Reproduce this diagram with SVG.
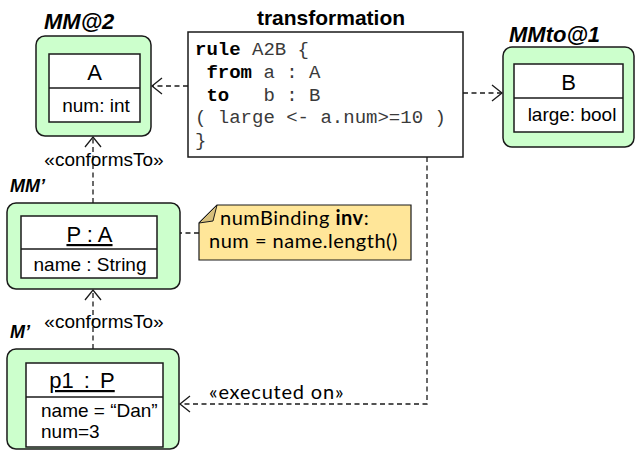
<svg xmlns="http://www.w3.org/2000/svg" width="635" height="460" viewBox="0 0 635 460">
<style>
.bg{fill:#ffffff}
.pkg{fill:#ccffcc;stroke:#1a1a1a;stroke-width:1.5}
.cls{fill:#ffffff;stroke:#1a1a1a;stroke-width:1.5}
.sep{stroke:#1a1a1a;stroke-width:1.5}
.t{font-family:"Liberation Sans",Arial,sans-serif;font-size:19px;fill:#000}
.nm{font-family:"Liberation Sans",Arial,sans-serif;font-size:22px;fill:#000}
.lbl{font-family:"Liberation Sans",Arial,sans-serif;font-weight:bold;font-style:italic;fill:#000}
.code{font-family:"Liberation Mono","Courier New",monospace;font-size:19px;fill:#3a3a3a;white-space:pre}
.kw{font-weight:bold;fill:#000}
.note{font-family:Lato,"Noto Sans",sans-serif;font-size:20px;letter-spacing:0.5px;fill:#000}
.conn{fill:none;stroke:#1a1a1a;stroke-width:1.3;stroke-dasharray:5,3.5}
</style>
<defs>
<marker id="open" viewBox="-12 -10 14 20" markerWidth="14" markerHeight="20" refX="0" refY="0" orient="auto" markerUnits="userSpaceOnUse">
<path d="M-10,-8 L0,0 L-10,8" fill="none" stroke="#1a1a1a" stroke-width="1.3"/>
</marker>
</defs>
<rect class="bg" x="0" y="0" width="635" height="460"/>

<g id="connectors">
<line class="conn" x1="188" y1="86" x2="152" y2="86" marker-end="url(#open)"/>
<line class="conn" x1="463" y1="93" x2="502" y2="93" marker-end="url(#open)"/>
<line class="conn" x1="93" y1="203" x2="93" y2="137" marker-end="url(#open)"/>
<line class="conn" x1="93" y1="349" x2="93" y2="290" marker-end="url(#open)"/>
<line class="conn" x1="199" y1="233" x2="158" y2="233" marker-end="url(#open)"/>
<path class="conn" d="M427,157 V404 H180" marker-end="url(#open)"/>
<text class="t" x="104" y="166" text-anchor="middle" font-size="20">«conformsTo»</text>
<text class="t" x="104" y="328" text-anchor="middle" font-size="20">«conformsTo»</text>
<text class="note" x="209" y="399" style="letter-spacing:0.8px">«executed on»</text>
</g>

<g id="MM2">
<text class="lbl" x="44" y="29" font-size="22">MM@2</text>
<rect class="pkg" x="36" y="36" width="115" height="100" rx="9"/>
<rect class="cls" x="49" y="54" width="91" height="68"/>
<line class="sep" x1="49" y1="88" x2="140" y2="88"/>
<text class="nm" x="94.5" y="80" text-anchor="middle">A</text>
<text class="t" x="96" y="112" text-anchor="middle">num: int</text>
</g>

<g id="transformation">
<text class="lbl" x="331" y="25" font-size="21" text-anchor="middle" style="font-style:normal">transformation</text>
<rect x="188" y="32" width="275" height="125" fill="#ffffff" stroke="#1a1a1a" stroke-width="1.5"/>
<text class="code" x="195" y="55"><tspan class="kw">rule</tspan> A2B {</text>
<text class="code" x="195" y="78"> <tspan class="kw">from</tspan> a : A</text>
<text class="code" x="195" y="101"> <tspan class="kw">to</tspan>   b : B</text>
<text class="code" x="195" y="123">( large &lt;- a.num&gt;=10 )</text>
<text class="code" x="195" y="146">}</text>
</g>

<g id="MMto1">
<text class="lbl" x="509" y="42" font-size="22">MMto@1</text>
<rect class="pkg" x="503" y="47" width="131" height="100" rx="9"/>
<rect class="cls" x="514" y="64" width="109" height="68"/>
<line class="sep" x1="514" y1="98" x2="623" y2="98"/>
<text class="nm" x="568.5" y="90" text-anchor="middle">B</text>
<text class="t" x="572" y="121" text-anchor="middle">large: bool</text>
</g>

<g id="MMprime">
<text class="lbl" x="10" y="192" font-size="18">MM’</text>
<rect class="pkg" x="7" y="203" width="173" height="86" rx="9"/>
<rect class="cls" x="21" y="216" width="136" height="62"/>
<line class="sep" x1="21" y1="249" x2="157" y2="249"/>
<text class="nm" x="89.5" y="242" text-anchor="middle" text-decoration="underline">P : A</text>
<text class="t" x="90" y="271" text-anchor="middle">name : String</text>
</g>

<g id="note">
<polygon points="199,223 217,205 411,205 411,260 199,260" fill="#ffe699" stroke="#1a1a1a" stroke-width="1.2"/>
<polygon points="199,223 217,205 213,221" fill="#d6bf7b" stroke="#1a1a1a" stroke-width="1"/>
<text class="note" x="220" y="225">numBinding <tspan font-weight="bold">inv</tspan>:</text>
<text class="note" x="209" y="248">num = name.length()</text>
</g>

<g id="Mprime">
<text class="lbl" x="10" y="338" font-size="18">M’</text>
<rect class="pkg" x="7" y="349" width="172" height="100" rx="9"/>
<rect class="cls" x="26" y="363" width="137" height="84"/>
<line class="sep" x1="26" y1="397" x2="163" y2="397"/>
<text class="nm" x="82" y="388" text-anchor="middle" text-decoration="underline" font-size="25" word-spacing="4">p1 : P</text>
<text class="t" x="41" y="417">name = “Dan”</text>
<text class="t" x="41" y="438">num=3</text>
</g>
</svg>
